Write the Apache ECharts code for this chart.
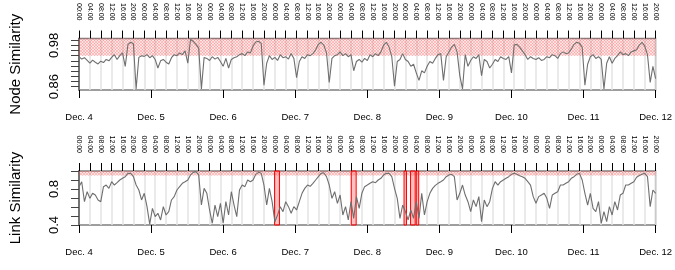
<!DOCTYPE html>
<html><head><meta charset="utf-8">
<script src="https://cdn.jsdelivr.net/npm/echarts@6/dist/echarts.min.js"></script>
<style>html,body{margin:0;padding:0;background:#fff}#c{width:675px;height:270px}</style>
</head><body><div id="c"></div>
<script>
// ---- data (hourly, starting Dec. 4 00:00) ----
const hourLabels = ['00:00','04:00','08:00','12:00','16:00','20:00'];
const dayLabels = ['Dec. 4','Dec. 5','Dec. 6','Dec. 7','Dec. 8','Dec. 9','Dec. 10','Dec. 11','Dec. 12'];
const nodeTicks = [0.86,0.875,0.89,0.905,0.92,0.935,0.95,0.965,0.98,0.995];
const nodeLabels = [0.86,0.98];
const linkLabels = [0.4,0.8];
const threshold = 0.95;
const nodeValues = [
0.947,0.940,0.944,0.936,0.928,0.937,0.931,0.926,0.934,0.930,0.939,0.935,
0.945,0.953,0.939,0.950,0.958,0.919,0.983,0.989,0.985,0.853,0.945,0.950,
0.948,0.953,0.944,0.950,0.939,0.914,0.935,0.939,0.931,0.926,0.944,0.953,
0.950,0.958,0.953,0.964,0.928,0.997,0.992,0.983,0.972,0.853,0.945,0.942,
0.936,0.947,0.940,0.945,0.933,0.919,0.942,0.914,0.939,0.944,0.947,0.953,
0.956,0.950,0.961,0.958,0.978,0.990,0.992,0.986,0.864,0.928,0.950,0.939,
0.945,0.936,0.953,0.944,0.947,0.940,0.956,0.942,0.886,0.933,0.947,0.942,
0.953,0.950,0.956,0.967,0.983,0.989,0.981,0.958,0.872,0.942,0.950,0.953,
0.961,0.950,0.956,0.947,0.953,0.906,0.933,0.939,0.931,0.942,0.936,0.953,
0.947,0.956,0.950,0.961,0.981,0.989,0.975,0.947,0.861,0.933,0.939,0.956,
0.939,0.933,0.919,0.925,0.900,0.878,0.906,0.900,0.919,0.933,0.928,0.942,
0.953,0.956,0.878,0.947,0.961,0.975,0.983,0.961,0.892,0.853,0.953,0.919,
0.936,0.947,0.942,0.953,0.892,0.939,0.933,0.914,0.925,0.939,0.933,0.947,
0.942,0.939,0.947,0.900,0.981,0.983,0.975,0.964,0.953,0.939,0.947,0.942,
0.939,0.944,0.936,0.939,0.947,0.944,0.953,0.950,0.942,0.956,0.961,0.956,
0.958,0.969,0.983,0.989,0.986,0.975,0.864,0.925,0.947,0.953,0.942,0.947,
0.939,0.853,0.928,0.947,0.928,0.942,0.950,0.961,0.953,0.956,0.950,0.961,
0.964,0.967,0.981,0.989,0.978,0.953,0.872,0.919,0.883
];
const linkValues = [
0.826,0.881,0.659,0.770,0.696,0.752,0.733,0.678,0.659,0.826,0.844,0.807,
0.881,0.844,0.870,0.900,0.919,0.937,0.974,0.974,0.937,0.844,0.789,0.678,
0.752,0.604,0.410,0.585,0.493,0.530,0.456,0.604,0.511,0.548,0.678,0.715,
0.789,0.826,0.863,0.880,0.900,0.956,0.985,0.993,0.956,0.622,0.807,0.752,
0.567,0.419,0.622,0.493,0.641,0.419,0.659,0.511,0.770,0.622,0.493,0.789,
0.844,0.826,0.900,0.880,0.900,0.963,0.985,0.974,0.844,0.622,0.807,0.659,
0.437,0.511,0.604,0.548,0.659,0.604,0.530,0.604,0.567,0.659,0.752,0.807,
0.844,0.830,0.863,0.900,0.937,0.974,0.981,0.937,0.844,0.696,0.770,0.641,
0.733,0.511,0.604,0.456,0.659,0.474,0.715,0.585,0.752,0.826,0.844,0.863,
0.881,0.870,0.900,0.919,0.956,0.974,0.974,0.937,0.807,0.696,0.474,0.622,
0.548,0.456,0.567,0.474,0.659,0.474,0.752,0.511,0.659,0.752,0.807,0.840,
0.863,0.881,0.900,0.937,0.956,0.963,0.937,0.678,0.752,0.844,0.733,0.659,
0.548,0.678,0.604,0.715,0.437,0.678,0.604,0.659,0.807,0.881,0.844,0.881,
0.900,0.919,0.937,0.963,0.974,0.963,0.948,0.937,0.919,0.881,0.844,0.715,
0.641,0.715,0.733,0.752,0.696,0.585,0.733,0.752,0.770,0.844,0.844,0.863,
0.881,0.919,0.937,0.963,0.974,0.900,0.752,0.622,0.752,0.585,0.548,0.659,
0.419,0.548,0.437,0.604,0.511,0.659,0.567,0.733,0.752,0.844,0.844,0.863,
0.881,0.930,0.950,0.963,0.974,0.937,0.604,0.789,0.752
];
// periods (hours from Dec. 4 00:00) flagged in red on the link panel
const linkFlagStart = [71.9, 100.1, 119.5, 121.9, 124.0];
const linkFlagEnd   = [73.7, 101.9, 120.4, 123.6, 124.9];

function hatch(){
  const c=document.createElement('canvas'); c.width=3; c.height=3;
  const g=c.getContext('2d');
  g.fillStyle='rgba(255,90,90,0.16)'; g.fillRect(0,0,3,3);
  g.fillStyle='rgba(240,60,60,0.22)';
  for(let i=0;i<3;i++){ g.fillRect(i,i,1,1); g.fillRect(2-i,i,1,1); }
  return c;
}
const hatchColor = {image: hatch(), repeat: 'repeat'};
const FONT = 'Liberation Sans';
const nodeData = nodeValues.map((v,i)=>[i,v]);
const linkData = linkValues.map((v,i)=>[i,v]);

function topAxis(g){
  return {type:'value', gridIndex:g, position:'top', min:0, max:212, interval:4,
    axisLine:{show:false},
    axisTick:{show:true, length:8, lineStyle:{color:'#000', width:1}},
    axisLabel:{show:true, rotate:90, margin:18, fontSize:7, fontFamily:FONT, color:'#000',
      formatter:v=>hourLabels[Math.round(v/4)%6]},
    splitLine:{show:true, lineStyle:{color:'#e3e3e3', width:1.5}}};
}
function dayAxis(g){
  return {type:'value', gridIndex:g, position:'bottom', min:0, max:8, interval:1,
    axisLine:{show:false},
    axisTick:{show:true, length:8, lineStyle:{color:'#000', width:1}},
    axisLabel:{show:true, margin:22, fontSize:9.5, fontFamily:FONT, color:'#000',
      formatter:v=>dayLabels[Math.round(v)]},
    splitLine:{show:false}};
}
const chart = echarts.init(document.getElementById('c'), null, {renderer:'canvas'});
chart.setOption({
  animation:false,
  backgroundColor:'#fff',
  grid:[
    {left:72, right:18, top:36, height:54, show:true, borderColor:'#7f7f7f', borderWidth:1.5, backgroundColor:'transparent'},
    {left:72, right:18, top:171, height:54, show:true, borderColor:'#7f7f7f', borderWidth:1.5, backgroundColor:'transparent'}
  ],
  xAxis:[topAxis(0), dayAxis(0), topAxis(1), dayAxis(1)],
  yAxis:[
    {type:'value', gridIndex:0, min:0.85, max:1.0,
      name:'Node Similarity', nameLocation:'middle', nameGap:56, nameRotate:90,
      nameTextStyle:{fontSize:15, fontFamily:FONT, color:'#000'},
      axisLine:{show:true, lineStyle:{color:'#555', width:1.5}},
      axisTick:{show:true, length:8, customValues:nodeTicks, lineStyle:{color:'#444'}},
      axisLabel:{show:true, customValues:nodeLabels, rotate:90, margin:18, fontSize:13, fontFamily:FONT, color:'#000',
        formatter:v=>v.toFixed(2)},
      splitLine:{show:false}},
    {type:'value', gridIndex:1, min:0.4, max:1.0, interval:0.1,
      name:'Link Similarity', nameLocation:'middle', nameGap:56, nameRotate:90,
      nameTextStyle:{fontSize:15, fontFamily:FONT, color:'#000'},
      axisLine:{show:true, lineStyle:{color:'#555', width:1.5}},
      axisTick:{show:true, length:8, lineStyle:{color:'#444'}},
      axisLabel:{show:true, customValues:linkLabels, rotate:90, margin:18, fontSize:13, fontFamily:FONT, color:'#000',
        formatter:v=>v.toFixed(1)},
      splitLine:{show:false}}
  ],
  series:[
    {type:'line', xAxisIndex:0, yAxisIndex:0, data:nodeData, showSymbol:false,
      lineStyle:{color:'#6f6f6f', width:1.1}, z:3},
    {type:'line', xAxisIndex:0, yAxisIndex:0, data:[], z:5,
      markArea:{silent:true, itemStyle:{color:hatchColor},
        data:[[{yAxis:threshold},{yAxis:1.0}]]}},
    {type:'line', xAxisIndex:2, yAxisIndex:1, data:linkData, showSymbol:false,
      lineStyle:{color:'#6f6f6f', width:1.1}, z:3},
    {type:'line', xAxisIndex:2, yAxisIndex:1, data:[], z:5,
      markArea:{silent:true, itemStyle:{color:hatchColor},
        data:[[{yAxis:threshold},{yAxis:1.0}]]}},
    {type:'line', xAxisIndex:2, yAxisIndex:1, data:[], z:4,
      markArea:{silent:true, itemStyle:{color:'rgba(255,80,80,0.35)', borderColor:'#ff0000', borderWidth:1},
        data:linkFlagStart.map((s,i)=>[{xAxis:s},{xAxis:linkFlagEnd[i]}])}}
  ]
});
</script></body></html>
